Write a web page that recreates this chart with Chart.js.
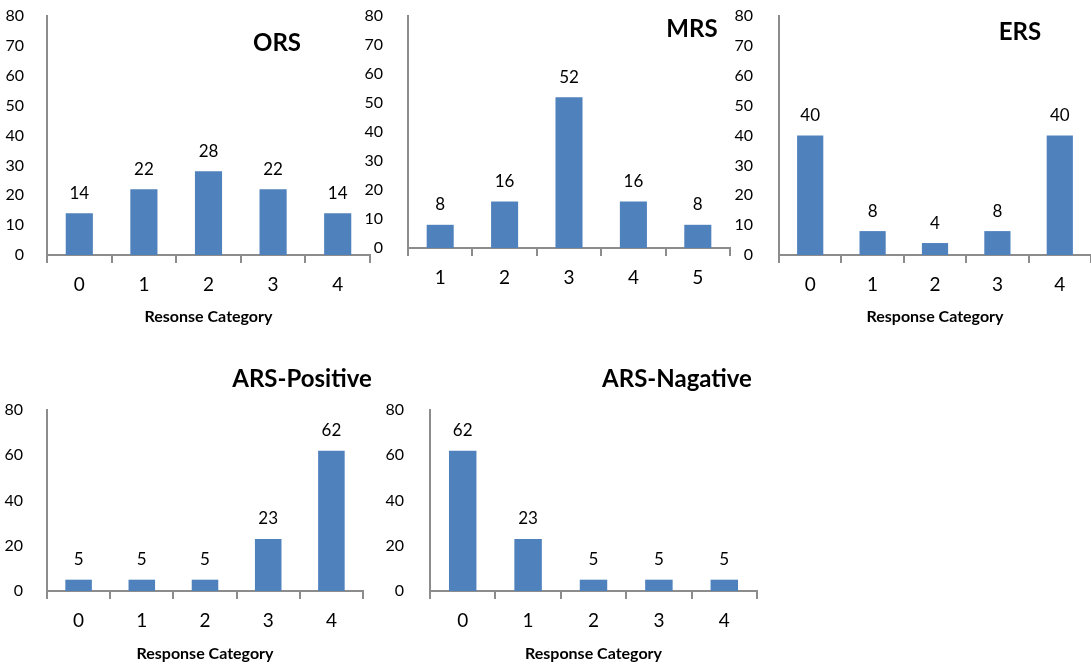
<!DOCTYPE html>
<html>
<head>
<meta charset="utf-8">
<script src="https://cdn.jsdelivr.net/npm/chart.js@4/dist/chart.umd.min.js"></script>
<style>
  html, body { margin: 0; padding: 0; background: #fff; }
  body { width: 1091px; height: 667px; position: relative; overflow: hidden; font-family: Lato, "Open Sans", sans-serif; }
  canvas { position: absolute; }
  .ttl { position: absolute; font-weight: bold; font-size: 24px; color: #000; transform: translate(-50%, -50%); white-space: nowrap; line-height: 1; }
</style>
</head>
<body>
<canvas id="ors" width="373" height="340" style="left:0;top:0"></canvas>
<canvas id="mrs" width="373" height="300" style="left:360px;top:0"></canvas>
<canvas id="ers" width="372" height="340" style="left:720px;top:0"></canvas>
<canvas id="arsPos" width="366" height="307" style="left:0;top:360px"></canvas>
<canvas id="arsNeg" width="380" height="307" style="left:380px;top:360px"></canvas>

<div class="ttl" style="left:277px;top:42px">ORS</div>
<div class="ttl" style="left:692px;top:28px">MRS</div>
<div class="ttl" style="left:1020px;top:31px">ERS</div>
<div class="ttl" style="left:302px;top:378px">ARS-Positive</div>
<div class="ttl" style="left:677px;top:378px">ARS-Nagative</div>

<script>
// Response categories and percentages for each response style
const orsCategories = ['0', '1', '2', '3', '4'];
const orsValues = [14, 22, 28, 22, 14];

const mrsCategories = ['1', '2', '3', '4', '5'];
const mrsValues = [8, 16, 52, 16, 8];

const ersCategories = ['0', '1', '2', '3', '4'];
const ersValues = [40, 8, 4, 8, 40];

const arsPositiveCategories = ['0', '1', '2', '3', '4'];
const arsPositiveValues = [5, 5, 5, 23, 62];

const arsNegativeCategories = ['0', '1', '2', '3', '4'];
const arsNegativeValues = [62, 23, 5, 5, 5];

const BAR_COLOR = '#4F81BD';
const AXIS_COLOR = '#8c8c8c';
const FONT = 'Lato';

// Writes each bar's value just above it
const valueLabels = {
  id: 'valueLabels',
  afterDatasetsDraw(chart) {
    const ctx = chart.ctx;
    const ds = chart.data.datasets[0];
    const meta = chart.getDatasetMeta(0);
    ctx.save();
    ctx.font = '17px ' + FONT;
    ctx.fillStyle = '#000';
    ctx.textAlign = 'center';
    ctx.textBaseline = 'middle';
    meta.data.forEach((bar, i) => {
      ctx.fillText(String(ds.data[i]), bar.x, bar.y - 20);
    });
    ctx.restore();
  }
};

// Keep the plot area where the layout padding puts it
function clearScalePadding(scale) {
  scale.paddingTop = 0;
  scale.paddingBottom = 0;
  scale.paddingLeft = 0;
  scale.paddingRight = 0;
}

function makeChart(id, categories, values, o) {
  return new Chart(document.getElementById(id), {
    type: 'bar',
    data: {
      labels: categories,
      datasets: [{
        data: values,
        backgroundColor: BAR_COLOR,
        borderWidth: 0,
        categoryPercentage: 1,
        barPercentage: 0.42
      }]
    },
    options: {
      responsive: false,
      animation: false,
      events: [],
      layout: { padding: { top: o.padTop, right: o.padRight, left: 0, bottom: 0 } },
      plugins: { legend: { display: false }, tooltip: { enabled: false }, title: { display: false } },
      scales: {
        x: {
          offset: true,
          grid: { display: true, drawOnChartArea: false, drawTicks: true, tickLength: 8, color: AXIS_COLOR, lineWidth: 2, offset: true },
          border: { display: true, color: AXIS_COLOR, width: 2 },
          ticks: { color: '#000', font: { family: FONT, size: 19 }, padding: o.xTickPad, maxRotation: 0 },
          title: {
            display: !!o.axisTitle,
            text: o.axisTitle || '',
            color: '#000',
            font: { family: FONT, size: 16, weight: 'bold' },
            padding: { top: 0, bottom: o.titlePad }
          },
          afterFit(scale) { scale.height = o.xHeight; clearScalePadding(scale); }
        },
        y: {
          min: 0,
          max: 80,
          grid: { display: false },
          border: { display: true, color: AXIS_COLOR, width: 2 },
          ticks: { stepSize: o.step, color: '#000', font: { family: FONT, size: 16 }, padding: o.yTickPad },
          afterFit(scale) { scale.width = o.yWidth; clearScalePadding(scale); }
        }
      }
    },
    plugins: [valueLabels]
  });
}

makeChart('ors', orsCategories, orsValues,
  { padTop: 16, padRight: 3, yWidth: 47, xHeight: 85, step: 10, yTickPad: 15, xTickPad: 10, axisTitle: 'Resonse Category', titlePad: 14 });
makeChart('mrs', mrsCategories, mrsValues,
  { padTop: 16, padRight: 3, yWidth: 48, xHeight: 52, step: 10, yTickPad: 17, xTickPad: 10, axisTitle: null, titlePad: 0 });
makeChart('ers', ersCategories, ersValues,
  { padTop: 16, padRight: 1, yWidth: 59, xHeight: 85, step: 10, yTickPad: 18, xTickPad: 10, axisTitle: 'Response Category', titlePad: 14 });
makeChart('arsPos', arsPositiveCategories, arsPositiveValues,
  { padTop: 50, padRight: 3, yWidth: 47, xHeight: 76, step: 20, yTickPad: 16, xTickPad: 10, axisTitle: 'Response Category', titlePad: 4 });
makeChart('arsNeg', arsNegativeCategories, arsNegativeValues,
  { padTop: 50, padRight: 3, yWidth: 50, xHeight: 76, step: 20, yTickPad: 18, xTickPad: 10, axisTitle: 'Response Category', titlePad: 4 });
</script>
</body>
</html>
